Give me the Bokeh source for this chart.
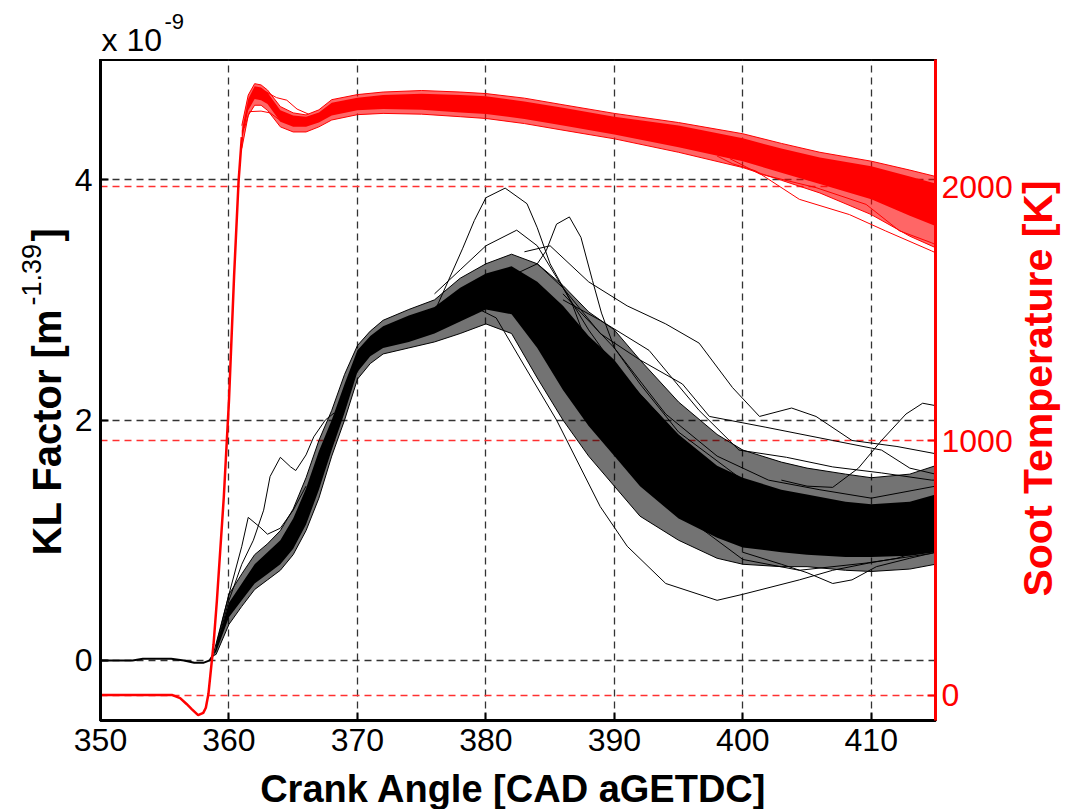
import math
from bokeh.plotting import figure
from bokeh.layouts import column, row
from bokeh.models import Range1d, LinearAxis, FixedTicker, Grid
from bokeh.core.properties import value
from bokeh.embed import file_html
from bokeh.resources import INLINE

# ---------------- data ----------------
x_ticks = [350, 360, 370, 380, 390, 400, 410]
kl_ticks = [0, 2, 4]              # KL factor, units of 1e-9 m^-1.39
temp_ticks = [0, 1000, 2000]      # soot temperature [K]

# common pre-ignition trace of all KL cycles
kl_pre_cad = [350, 352.5, 353.3, 355.5, 356.5, 357.3, 358.0, 358.5, 358.8]
kl_pre = [0.0, 0.0, 0.014, 0.014, 0.0, -0.02, -0.02, 0.0, 0.05]

# envelope of the dense bundle of KL cycles
band_cad = [358.8, 359, 360, 361, 362, 363, 364, 365, 366, 367, 368, 369, 370, 371, 372,
            374, 376, 378, 380, 382, 384, 386, 388, 390, 392, 395, 398, 400, 403, 405,
            408, 410, 413, 415]
kl_outer_lo = [0.04, 0.05, 0.30, 0.45, 0.59, 0.67, 0.75, 0.88, 1.08, 1.35, 1.70, 2.00, 2.34,
               2.47, 2.55, 2.60, 2.65, 2.72, 2.80, 2.72, 2.35, 2.00, 1.70, 1.45, 1.20, 1.00,
               0.85, 0.80, 0.78, 0.78, 0.75, 0.74, 0.76, 0.80]
kl_outer_hi = [0.06, 0.14, 0.55, 0.72, 0.88, 0.97, 1.08, 1.26, 1.52, 1.83, 2.08, 2.38, 2.62,
               2.74, 2.83, 2.92, 3.00, 3.18, 3.30, 3.38, 3.30, 3.12, 2.90, 2.75, 2.50, 2.15,
               1.88, 1.75, 1.65, 1.60, 1.55, 1.52, 1.55, 1.62]
kl_inner_lo = [0.05, 0.07, 0.36, 0.50, 0.64, 0.72, 0.80, 0.93, 1.13, 1.42, 1.75, 2.06, 2.40,
               2.53, 2.60, 2.65, 2.72, 2.82, 2.92, 2.88, 2.60, 2.25, 1.95, 1.70, 1.45, 1.18,
               1.02, 0.94, 0.90, 0.88, 0.86, 0.86, 0.87, 0.90]
kl_inner_hi = [0.05, 0.11, 0.48, 0.64, 0.80, 0.90, 1.00, 1.18, 1.43, 1.74, 2.00, 2.30, 2.58,
               2.70, 2.78, 2.87, 2.94, 3.10, 3.22, 3.28, 3.15, 2.95, 2.70, 2.50, 2.22, 1.88,
               1.62, 1.52, 1.42, 1.38, 1.32, 1.30, 1.32, 1.38]

# individual KL cycles that stand out of (or can be followed inside) the bundle
kl_a_cad = [376, 378.2, 379.1, 380, 381.5, 383.2, 384, 385, 386.7, 388, 390, 395, 400, 405, 410, 415]
kl_a = [2.90, 3.43, 3.66, 3.85, 3.93, 3.80, 3.60, 3.30, 2.97, 2.60, 2.25, 1.50, 1.20, 1.10, 1.00, 1.05]
kl_b_cad = [378, 380.8, 383, 385.5, 388.9, 391, 394, 398, 400, 404.4, 407, 409.8, 412, 415]
kl_b = [3.00, 2.85, 2.45, 2.00, 1.28, 0.95, 0.64, 0.50, 0.55, 0.67, 0.75, 0.81, 0.85, 0.95]
kl_c_cad = [380, 382, 384, 384.7, 385.5, 386.5, 387.4, 388.3, 389, 390, 392, 395, 400, 405, 410, 415]
kl_c = [3.10, 3.20, 3.30, 3.41, 3.63, 3.69, 3.52, 3.16, 2.89, 2.60, 2.30, 1.90, 1.50, 1.30, 1.20, 1.30]
kl_d_cad = [383, 385, 388, 391, 394, 396.6, 399.2, 401.3, 403.8, 405.7, 408.5, 412, 415]
kl_d = [3.40, 3.45, 3.15, 2.95, 2.80, 2.64, 2.27, 2.03, 2.10, 2.03, 1.83, 1.78, 1.72]
kl_e_cad = [384, 386, 388.9, 392, 395.3, 397.4, 401.8, 407, 410.8, 413, 415]
kl_e = [3.30, 3.10, 2.72, 2.50, 2.30, 2.03, 1.94, 1.83, 1.75, 1.60, 1.55]
kl_f_cad = [403, 405, 407, 409, 410.8, 412.7, 414, 415]
kl_f = [1.50, 1.45, 1.44, 1.60, 1.83, 2.05, 2.14, 2.12]
kl_g_cad = [359, 360, 361, 361.9, 362.7, 363.2, 364, 364.8, 365.2, 366, 366.6, 367.5, 368.2]
kl_g = [0.10, 0.50, 0.80, 1.00, 1.25, 1.53, 1.69, 1.61, 1.58, 1.71, 1.86, 2.00, 2.06]
kl_h_cad = [359, 360, 361, 361.5, 362.4, 363, 364, 365, 366]
kl_h = [0.12, 0.55, 0.95, 1.19, 1.11, 1.05, 1.10, 1.25, 1.45]
kl_i_cad = [376, 378, 380, 382.4, 384, 386, 388, 390, 393, 396, 400, 405, 410, 415]
kl_i = [3.05, 3.25, 3.45, 3.58, 3.45, 3.10, 2.75, 2.45, 2.10, 1.75, 1.45, 1.30, 1.25, 1.35]
kl_j_cad = [386, 388.9, 392.7, 396.6, 399.7, 403.4, 407, 410.8, 414.7, 415]
kl_j = [3.00, 2.83, 2.58, 2.08, 1.75, 1.69, 1.61, 1.56, 1.50, 1.50]
kl_k_cad = [384, 386, 388.9, 392.7, 396.6, 400, 404.4, 409.6, 414.7, 415]
kl_k = [2.75, 2.50, 2.16, 1.56, 1.11, 0.84, 0.75, 0.81, 0.89, 0.90]
kl_l_cad = [400, 403, 405, 407, 408.5, 410.4, 413, 415]
kl_l = [0.90, 0.80, 0.73, 0.64, 0.67, 0.78, 0.85, 0.90]
kl_m_cad = [386, 390, 394, 398, 402, 406, 410, 415]
kl_m = [2.80, 2.35, 1.80, 1.45, 1.30, 1.20, 1.15, 1.20]
kl_n_cad = [384, 388, 392, 396, 400, 405, 410, 415]
kl_n = [3.00, 2.50, 1.95, 1.50, 1.25, 1.05, 1.00, 1.10]
kl_o_cad = [386, 390, 394, 398, 402, 406, 410, 415]
kl_o = [3.05, 2.60, 2.05, 1.70, 1.50, 1.42, 1.35, 1.45]

# common soot-temperature trace (before cycles separate)
t_pre_cad = [350, 355.6, 356.2, 356.7, 357.1, 357.6, 358.0, 358.2, 358.4, 358.8, 359.06,
             359.6, 360.0, 360.4, 360.75, 361.0]
t_pre = [0, 0, -12, -35, -55, -79, -70, -50, 4, 200, 371, 780, 1157, 1650, 2022, 2195]

# envelope of the bundle of soot-temperature cycles
t_band_cad = [361.0, 361.5, 362, 362.5, 363, 364, 365, 366, 367, 368, 370, 372, 375, 378,
              380, 383, 386, 390, 395, 400, 403, 406, 410, 413, 415]
t_outer_lo = [2150, 2280, 2320, 2320, 2300, 2235, 2215, 2215, 2235, 2262, 2283, 2288, 2285,
              2275, 2268, 2248, 2222, 2188, 2135, 2075, 2025, 1975, 1890, 1805, 1760]
t_outer_hi = [2240, 2360, 2405, 2400, 2380, 2315, 2290, 2282, 2302, 2342, 2362, 2372, 2378,
              2372, 2366, 2348, 2322, 2288, 2252, 2208, 2170, 2135, 2100, 2065, 2040]
t_inner_lo = [2180, 2300, 2345, 2340, 2325, 2255, 2235, 2235, 2252, 2280, 2300, 2305, 2302,
              2292, 2286, 2266, 2240, 2205, 2155, 2100, 2055, 2010, 1950, 1885, 1845]
t_inner_hi = [2220, 2345, 2395, 2390, 2370, 2300, 2280, 2275, 2292, 2330, 2350, 2360, 2365,
              2360, 2355, 2335, 2310, 2275, 2240, 2190, 2150, 2115, 2080, 2040, 2012]

# individual soot-temperature cycles that stand out
t_a_cad = [398, 399.2, 401, 404.4, 408.3, 411.1, 414.7, 415]
t_a = [2120, 2090, 2062, 1950, 1890, 1826, 1747, 1740]
t_b_cad = [399, 401.3, 405.7, 409.6, 412.2, 414.7, 415]
t_b = [2110, 2050, 1996, 1930, 1826, 1779, 1772]
t_c_cad = [361.2, 361.6, 362.5, 363.2, 364]
t_c = [2230, 2295, 2297, 2290, 2260]
t_d_cad = [362.8, 363.7, 364.5, 365.3, 366.2]
t_d = [2375, 2350, 2340, 2305, 2285]

# ---------------- layout constants (page pixels) ----------------
PAGE_W, PAGE_H = 1068, 809
TOP_H, BOT_H = 59, 40        # strips above / below the plot row
LEFT_W, RIGHT_W = 70, 53     # strips with the rotated y titles
MAIN_W = PAGE_W - LEFT_W - RIGHT_W
MAIN_H = PAGE_H - TOP_H - BOT_H
FRAME_L, FRAME_R = 100, 936  # plotting box, page x
FRAME_T, FRAME_B = 59, 720   # plotting box, page y
FONT = "Liberation Sans"
RED = "#ff0000"


def strip(w, h, y_lo, y_hi):
    f = figure(width=w, height=h, x_range=Range1d(0, w), y_range=Range1d(y_lo, y_hi),
               x_axis_type=None, y_axis_type=None, output_backend="svg",
               toolbar_location=None, min_border=0)
    f.outline_line_color = None
    f.background_fill_color = "white"
    f.border_fill_color = "white"
    return f


def lift(size_px):
    # compensation of the baseline placement of bokeh text glyphs
    return 0.28 * size_px


# ---------------- main plot ----------------
p = figure(width=MAIN_W, height=MAIN_H, output_backend="svg", toolbar_location=None,
           x_range=Range1d(350, 415), y_range=Range1d(-0.5, 5.0),
           min_border_left=FRAME_L - LEFT_W, min_border_right=LEFT_W + MAIN_W - FRAME_R,
           min_border_top=0, min_border_bottom=MAIN_H - (FRAME_B - FRAME_T))
p.extra_y_ranges = {"temp": Range1d(-100, 2500)}
p.background_fill_color = "white"
p.border_fill_color = "white"
p.outline_line_color = "black"
p.outline_line_width = 3


def style_axis(ax, color, ticks):
    ax.ticker = FixedTicker(ticks=ticks)
    ax.axis_line_color = color
    ax.axis_line_width = 3
    ax.major_tick_line_color = color
    ax.major_tick_line_width = 2
    ax.major_tick_in = 8
    ax.major_tick_out = 0
    ax.minor_tick_line_color = None
    ax.major_label_text_font = FONT
    ax.major_label_text_font_size = "32px"
    ax.major_label_text_color = color


style_axis(p.xaxis[0], "black", x_ticks)
p.xaxis[0].major_label_standoff = 8
style_axis(p.yaxis[0], "black", kl_ticks)
p.yaxis[0].major_label_standoff = 8

right = LinearAxis(y_range_name="temp")
style_axis(right, RED, temp_ticks)
right.major_label_standoff = 6
p.add_layout(right, "right")

for g in (p.xgrid[0], p.ygrid[0]):
    g.grid_line_color = "#333333"
    g.grid_line_width = 1.3
    g.grid_line_dash = "7 5"
p.xgrid[0].ticker = FixedTicker(ticks=x_ticks)
p.ygrid[0].ticker = FixedTicker(ticks=kl_ticks)
p.add_layout(Grid(dimension=1, ticker=FixedTicker(ticks=temp_ticks), y_range_name="temp",
                  grid_line_color="#ff3030", grid_line_width=1.3, grid_line_dash="7 5"))

# KL cycles
p.varea(x=band_cad, y1=kl_outer_lo, y2=kl_outer_hi, fill_color="black", fill_alpha=0.55)
p.varea(x=band_cad, y1=kl_inner_lo, y2=kl_inner_hi, fill_color="black", fill_alpha=1.0)
p.line(kl_pre_cad, kl_pre, line_color="black", line_width=2)
for cx, cy in [(kl_a_cad, kl_a), (kl_b_cad, kl_b), (kl_c_cad, kl_c), (kl_d_cad, kl_d),
               (kl_e_cad, kl_e), (kl_f_cad, kl_f), (kl_g_cad, kl_g), (kl_h_cad, kl_h),
               (kl_i_cad, kl_i), (kl_j_cad, kl_j), (kl_k_cad, kl_k), (kl_l_cad, kl_l),
               (kl_m_cad, kl_m), (kl_n_cad, kl_n), (kl_o_cad, kl_o),
               (band_cad, kl_outer_lo), (band_cad, kl_outer_hi)]:
    p.line(cx, cy, line_color="black", line_width=1)

# soot temperature cycles
p.varea(x=t_band_cad, y1=t_outer_lo, y2=t_outer_hi, fill_color=RED, fill_alpha=0.6,
        y_range_name="temp")
p.varea(x=t_band_cad, y1=t_inner_lo, y2=t_inner_hi, fill_color=RED, fill_alpha=1.0,
        y_range_name="temp")
p.line(t_pre_cad, t_pre, line_color=RED, line_width=2.5, y_range_name="temp")
for cx, cy in [(t_a_cad, t_a), (t_b_cad, t_b), (t_c_cad, t_c), (t_d_cad, t_d),
               (t_band_cad, t_outer_lo), (t_band_cad, t_outer_hi)]:
    p.line(cx, cy, line_color=RED, line_width=1, y_range_name="temp")

# ---------------- title strips ----------------
# strip coordinates: x in page pixels from the strip's left edge, y = PAGE_H - page y
top_fig = strip(PAGE_W, TOP_H, PAGE_H - TOP_H, PAGE_H)
top_fig.text(x=[101], y=[PAGE_H - 48 + lift(32)], text=["x 10"], text_font=value(FONT),
             text_font_size="32px", text_color="black", text_align="left",
             text_baseline="alphabetic")
top_fig.text(x=[164], y=[PAGE_H - 27 + lift(22)], text=["-9"], text_font=value(FONT),
             text_font_size="22px", text_color="black", text_align="left",
             text_baseline="alphabetic")

bot_fig = strip(PAGE_W, BOT_H, 0, BOT_H)
bot_fig.text(x=[513], y=[PAGE_H - 799 + lift(38)], text=["Crank Angle [CAD aGETDC]"],
             text_font=value(FONT), text_font_size="38px", text_font_style="bold",
             text_color="black", text_align="center", text_baseline="alphabetic")

# the side strips share the plotting box's vertical extent (page y 59..720)
left_fig = strip(LEFT_W, MAIN_H, PAGE_H - FRAME_B, PAGE_H - FRAME_T)
left_fig.text(x=[57.5 - lift(40)], y=[PAGE_H - 555], text=["KL Factor [m"],
              text_font=value(FONT), text_font_size="40px", text_font_style="bold",
              text_color="black", angle=math.pi / 2, text_align="left",
              text_baseline="alphabetic")
left_fig.text(x=[39 - lift(27)], y=[PAGE_H - 305], text=["-1.39"], text_font=value(FONT),
              text_font_size="27px", text_color="black",
              angle=math.pi / 2, text_align="left", text_baseline="alphabetic")
left_fig.text(x=[57.5 - lift(40)], y=[PAGE_H - 241], text=["]"], text_font=value(FONT),
              text_font_size="40px", text_font_style="bold", text_color="black",
              angle=math.pi / 2, text_align="left", text_baseline="alphabetic")

right_fig = strip(RIGHT_W, MAIN_H, PAGE_H - FRAME_B, PAGE_H - FRAME_T)
right_fig.text(x=[1049 - lift(41) - (PAGE_W - RIGHT_W)], y=[PAGE_H - 388],
               text=["Soot Temperature [K]"], text_font=value(FONT), text_font_size="41px",
               text_font_style="bold", text_color=RED, angle=math.pi / 2,
               text_align="center", text_baseline="alphabetic")

layout = column(top_fig, row(left_fig, p, right_fig), bot_fig)
open("out.html", "w").write(file_html(layout, INLINE))
